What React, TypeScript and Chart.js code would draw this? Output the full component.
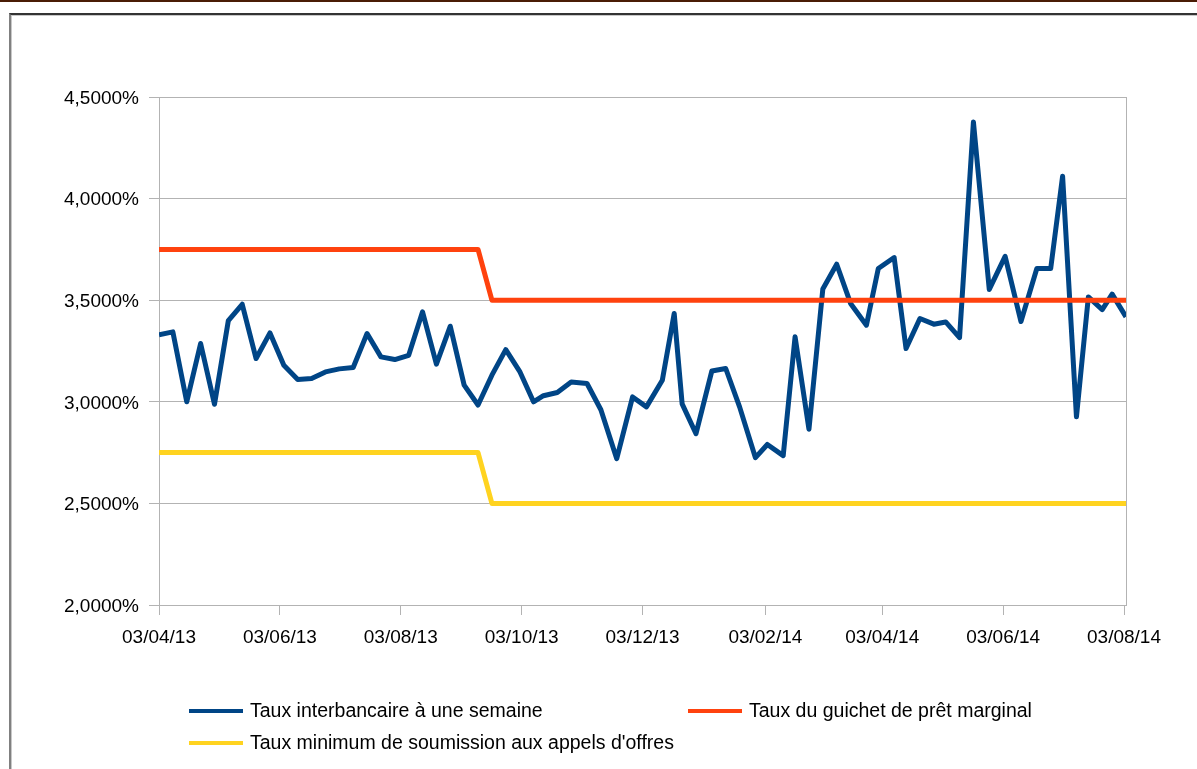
import React, { useEffect, useRef } from "react";
import { Chart, registerables } from "chart.js";

Chart.register(...registerables);

// ---- Data ----
const dates = [
  "2013-04-03", "2013-04-10", "2013-04-17", "2013-04-24", "2013-05-01", "2013-05-08",
  "2013-05-15", "2013-05-22", "2013-05-29", "2013-06-05", "2013-06-12", "2013-06-19",
  "2013-06-26", "2013-07-03", "2013-07-10", "2013-07-17", "2013-07-24", "2013-07-31",
  "2013-08-07", "2013-08-14", "2013-08-21", "2013-08-28", "2013-09-04", "2013-09-11",
  "2013-09-18", "2013-09-25", "2013-10-02", "2013-10-09", "2013-10-14", "2013-10-21",
  "2013-10-28", "2013-11-05", "2013-11-12", "2013-11-20", "2013-11-28", "2013-12-05",
  "2013-12-13", "2013-12-19", "2013-12-23", "2013-12-30", "2014-01-07", "2014-01-14",
  "2014-01-21", "2014-01-29", "2014-02-04", "2014-02-12", "2014-02-18", "2014-02-25",
  "2014-03-04", "2014-03-11", "2014-03-18", "2014-03-26", "2014-04-01", "2014-04-09",
  "2014-04-15", "2014-04-22", "2014-04-29", "2014-05-05", "2014-05-12", "2014-05-19",
  "2014-05-27", "2014-06-04", "2014-06-12", "2014-06-20", "2014-06-27", "2014-07-03",
  "2014-07-10", "2014-07-16", "2014-07-23", "2014-07-28", "2014-08-04",
];

const interbankRate = [
  3.330, 3.344, 3.000, 3.287, 2.988, 3.400,
  3.480, 3.213, 3.339, 3.180, 3.110, 3.115,
  3.147, 3.162, 3.169, 3.336, 3.221, 3.208,
  3.229, 3.443, 3.185, 3.372, 3.082, 2.984,
  3.131, 3.257, 3.150, 3.000, 3.030, 3.046,
  3.097, 3.090, 2.961, 2.720, 3.024, 2.975,
  3.106, 3.435, 2.990, 2.843, 3.152, 3.164,
  2.975, 2.725, 2.790, 2.735, 3.320, 2.865,
  3.555, 3.677, 3.484, 3.377, 3.656, 3.710,
  3.262, 3.410, 3.382, 3.393, 3.316, 4.377,
  3.553, 3.716, 3.395, 3.656, 3.656, 4.110,
  2.926, 3.516, 3.454, 3.530, 3.418,
];

const marginalLendingRate = [
  3.75, 3.75, 3.75, 3.75, 3.75, 3.75,
  3.75, 3.75, 3.75, 3.75, 3.75, 3.75,
  3.75, 3.75, 3.75, 3.75, 3.75, 3.75,
  3.75, 3.75, 3.75, 3.75, 3.75, 3.75,
  3.5, 3.5, 3.5, 3.5, 3.5, 3.5,
  3.5, 3.5, 3.5, 3.5, 3.5, 3.5,
  3.5, 3.5, 3.5, 3.5, 3.5, 3.5,
  3.5, 3.5, 3.5, 3.5, 3.5, 3.5,
  3.5, 3.5, 3.5, 3.5, 3.5, 3.5,
  3.5, 3.5, 3.5, 3.5, 3.5, 3.5,
  3.5, 3.5, 3.5, 3.5, 3.5, 3.5,
  3.5, 3.5, 3.5, 3.5, 3.5,
];

const minimumBidRate = [
  2.75, 2.75, 2.75, 2.75, 2.75, 2.75,
  2.75, 2.75, 2.75, 2.75, 2.75, 2.75,
  2.75, 2.75, 2.75, 2.75, 2.75, 2.75,
  2.75, 2.75, 2.75, 2.75, 2.75, 2.75,
  2.5, 2.5, 2.5, 2.5, 2.5, 2.5,
  2.5, 2.5, 2.5, 2.5, 2.5, 2.5,
  2.5, 2.5, 2.5, 2.5, 2.5, 2.5,
  2.5, 2.5, 2.5, 2.5, 2.5, 2.5,
  2.5, 2.5, 2.5, 2.5, 2.5, 2.5,
  2.5, 2.5, 2.5, 2.5, 2.5, 2.5,
  2.5, 2.5, 2.5, 2.5, 2.5, 2.5,
  2.5, 2.5, 2.5, 2.5, 2.5,
];

const seriesLabels = [
  "Taux interbancaire à une semaine",
  "Taux du guichet de prêt marginal",
  "Taux minimum de soumission aux appels d'offres",
];
const seriesColors = ["#004586", "#ff420e", "#ffd320"];

const xTickDates = [
  "2013-04-03", "2013-06-03", "2013-08-03", "2013-10-03", "2013-12-03",
  "2014-02-03", "2014-04-03", "2014-06-03", "2014-08-03",
];
const xTickLabels = [
  "03/04/13", "03/06/13", "03/08/13", "03/10/13", "03/12/13",
  "03/02/14", "03/04/14", "03/06/14", "03/08/14",
];

const yMin = 2;
const yMax = 4.5;
const yStep = 0.5;

// ---- helpers ----
const DAY_MS = 86400000;
const toUtc = (s: string) => {
  const [y, m, d] = s.split("-").map(Number);
  return Date.UTC(y, m - 1, d);
};
const origin = toUtc(dates[0]);
const dayOf = (s: string) => (toUtc(s) - origin) / DAY_MS;

const FONT = '"Liberation Sans", Arial, sans-serif';
const GRID = "#b3b3b3";

export default function App() {
  const canvasRef = useRef<HTMLCanvasElement | null>(null);

  useEffect(() => {
    const canvas = canvasRef.current;
    if (!canvas) return;

    const xs = dates.map(dayOf);
    const tickDays = xTickDates.map(dayOf);
    const tickLabelMap = new Map<number, string>();
    tickDays.forEach((d, i) => tickLabelMap.set(d, xTickLabels[i]));

    const seriesValues = [interbankRate, marginalLendingRate, minimumBidRate];
    const orders = [2, 1, 0];

    const frameBorder = {
      id: "frameBorder",
      beforeDatasetsDraw(chart: any) {
        const { ctx, chartArea } = chart;
        ctx.save();
        ctx.strokeStyle = GRID;
        ctx.lineWidth = 1;
        ctx.beginPath();
        const x = Math.round(chartArea.right) + 0.5;
        ctx.moveTo(x, chartArea.top);
        ctx.lineTo(x, chartArea.bottom);
        ctx.stroke();
        ctx.restore();
      },
    };

    const legendSlots = [
      { x: 189, y: 711 },
      { x: 688, y: 711 },
      { x: 189, y: 743 },
    ];
    const customLegend = {
      id: "customLegend",
      afterDraw(chart: any) {
        const { ctx } = chart;
        ctx.save();
        chart.data.datasets.forEach((ds: any, i: number) => {
          const slot = legendSlots[i];
          ctx.strokeStyle = ds.borderColor;
          ctx.lineWidth = 4;
          ctx.lineCap = "butt";
          ctx.beginPath();
          ctx.moveTo(slot.x, slot.y);
          ctx.lineTo(slot.x + 54, slot.y);
          ctx.stroke();
          ctx.fillStyle = "#000";
          ctx.font = `19.5px ${FONT}`;
          ctx.textAlign = "left";
          ctx.textBaseline = "middle";
          ctx.fillText(ds.label, slot.x + 61, slot.y + 1);
        });
        ctx.restore();
      },
    };

    const chart = new Chart(canvas, {
      type: "line",
      data: {
        datasets: seriesValues.map((vals, i) => ({
          label: seriesLabels[i],
          data: vals.map((v, j) => ({ x: xs[j], y: v })),
          borderColor: seriesColors[i],
          backgroundColor: seriesColors[i],
          borderWidth: 5,
          pointRadius: 0,
          pointHoverRadius: 0,
          tension: 0,
          borderJoinStyle: "round" as const,
          borderCapStyle: "butt" as const,
          fill: false,
          order: orders[i],
        })),
      },
      options: {
        animation: false,
        responsive: false,
        devicePixelRatio: 1,
        events: [],
        layout: { padding: { top: 97, left: 0, right: 71, bottom: 104 } },
        plugins: {
          legend: { display: false },
          tooltip: { enabled: false },
          title: { display: false },
        },
        scales: {
          x: {
            type: "linear",
            min: xs[0],
            max: xs[xs.length - 1],
            afterFit(scale: any) {
              scale.height = 60;
            },
            afterBuildTicks(scale: any) {
              scale.ticks = tickDays.map((v) => ({ value: v }));
            },
            ticks: {
              autoSkip: false,
              maxRotation: 0,
              minRotation: 0,
              padding: 11,
              color: "#000",
              font: { family: FONT, size: 19 },
              callback: (value: any) => tickLabelMap.get(Number(value)) ?? "",
            },
            grid: {
              drawOnChartArea: false,
              drawTicks: true,
              tickLength: 10,
              color: GRID,
              lineWidth: 1,
            },
            border: { display: true, color: GRID, width: 1 },
          },
          y: {
            type: "linear",
            min: yMin,
            max: yMax,
            afterFit(scale: any) {
              scale.width = 159;
            },
            ticks: {
              stepSize: yStep,
              padding: 10,
              labelOffset: 1.5,
              color: "#000",
              font: { family: FONT, size: 19 },
              callback: (value: any) =>
                Number(value).toFixed(4).replace(".", ",") + "%",
            },
            grid: {
              drawTicks: true,
              tickLength: 10,
              color: GRID,
              lineWidth: 1,
            },
            border: { display: true, color: GRID, width: 1 },
          },
        },
      },
      plugins: [frameBorder, customLegend],
    });

    return () => {
      chart.destroy();
    };
  }, []);

  return (
    <div
      style={{
        position: "absolute",
        left: 0,
        top: 0,
        width: 1197,
        height: 769,
        background: "#fff",
        overflow: "hidden",
      }}
    >
      <div
        style={{
          position: "absolute",
          left: 0,
          top: 0,
          width: 1197,
          height: 2,
          background: "#4a1c05",
        }}
      />
      <div
        style={{
          position: "absolute",
          left: 9,
          top: 13,
          width: 1300,
          height: 900,
          borderTop: "2px solid #333",
          borderLeft: "2px solid #808080",
          boxShadow: "1px 1px 0 #c8c8c8 inset",
        }}
      />
      <canvas
        ref={canvasRef}
        width={1197}
        height={769}
        style={{ position: "absolute", left: 0, top: 0, width: 1197, height: 769 }}
      />
    </div>
  );
}
